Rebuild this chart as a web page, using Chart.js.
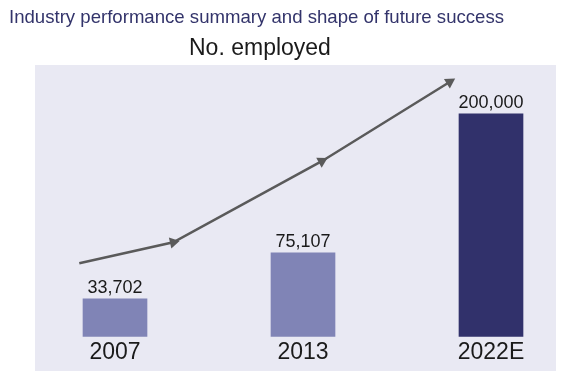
<!DOCTYPE html>
<html>
<head>
<meta charset="utf-8">
<script src="https://cdn.jsdelivr.net/npm/chart.js@4/dist/chart.umd.min.js"></script>
<style>
  html, body { margin: 0; padding: 0; background: #ffffff; }
  #wrap { width: 576px; height: 390px; position: relative; }
</style>
</head>
<body>
<div id="wrap"><canvas id="c" width="576" height="390"></canvas></div>
<script>
// ---- data ----
const chartTitle = "Industry performance summary and shape of future success";
const chartSubtitle = "No. employed";
const categories = ["2007", "2013", "2022E"];
const employed = [33702, 75107, 200000];
// decorative growth arrow (x in category-index units, y in employees)
const trendX = [-0.19, 0.31, 1.10, 1.78];
const trendY = [65700, 84600, 157500, 228700];

const barColors = ["#8084b6", "#8084b6", "#31316b"];
const FONT = "'Liberation Sans', Arial, Helvetica, sans-serif";

const panelPlugin = {
  id: 'panel',
  beforeDraw(chart) {
    const ctx = chart.ctx;
    ctx.save();
    ctx.fillStyle = '#e9e9f3';
    ctx.fillRect(35, 65, 521, 306);
    ctx.restore();
  }
};

const textPlugin = {
  id: 'texts',
  afterDraw(chart) {
    const ctx = chart.ctx;
    ctx.save();
    ctx.textAlign = 'left';
    ctx.textBaseline = 'alphabetic';
    ctx.fillStyle = '#33346b';
    ctx.font = "18.6px " + FONT;
    ctx.fillText(chartTitle, 9, 23);
    ctx.fillStyle = '#1a1a1a';
    ctx.font = "23px " + FONT;
    ctx.fillText(chartSubtitle, 189, 55);
    // value labels
    const meta = chart.getDatasetMeta(0);
    ctx.textAlign = 'center';
    ctx.font = "18px " + FONT;
    ctx.fillStyle = '#1a1a1a';
    meta.data.forEach((bar, i) => {
      ctx.fillText(employed[i].toLocaleString('en-US'), bar.x, bar.y - 6);
    });
    ctx.restore();
  }
};

function arrowRotation(c) {
  const i = c.dataIndex;
  if (i === 0) return 0;
  const sx = c.chart.scales.xt, sy = c.chart.scales.y;
  const x0 = sx.getPixelForValue(trendX[i - 1]), y0 = sy.getPixelForValue(trendY[i - 1]);
  const x1 = sx.getPixelForValue(trendX[i]), y1 = sy.getPixelForValue(trendY[i]);
  return Math.atan2(x1 - x0, -(y1 - y0)) * 180 / Math.PI;
}

new Chart(document.getElementById('c'), {
  type: 'bar',
  data: {
    labels: categories,
    datasets: [
      {
        type: 'bar',
        data: employed,
        backgroundColor: barColors,
        barThickness: 64,
        grouped: false,
        clip: false,
        order: 2
      },
      {
        type: 'line',
        xAxisID: 'xt',
        data: trendX.map((x, i) => ({ x: x, y: trendY[i] })),
        borderColor: '#5a5a5a',
        borderWidth: 2.5,
        tension: 0,
        fill: false,
        pointStyle: 'triangle',
        pointRadius: c => c.dataIndex === 0 ? 0 : 6.5,
        pointHoverRadius: c => c.dataIndex === 0 ? 0 : 6.5,
        pointRotation: arrowRotation,
        pointBackgroundColor: '#5a5a5a',
        pointBorderWidth: 0,
        clip: false,
        order: 1
      }
    ]
  },
  options: {
    responsive: false,
    animation: false,
    layout: { padding: { left: 115, right: 85, top: 65, bottom: 22 } },
    plugins: {
      legend: { display: false },
      tooltip: { enabled: false },
      title: { display: false }
    },
    scales: {
      x: {
        type: 'category',
        offset: false,
        grid: { display: false, drawTicks: false, offset: false },
        border: { display: false },
        ticks: {
          color: '#1a1a1a',
          font: { family: FONT, size: 23 },
          padding: 2,
          maxRotation: 0
        }
      },
      xt: {
        type: 'linear',
        display: false,
        offset: false,
        grid: { offset: false },
        min: 0,
        max: 2
      },
      y: {
        type: 'linear',
        display: false,
        min: 0,
        max: 244000
      }
    }
  },
  plugins: [panelPlugin, textPlugin]
});
</script>
</body>
</html>
